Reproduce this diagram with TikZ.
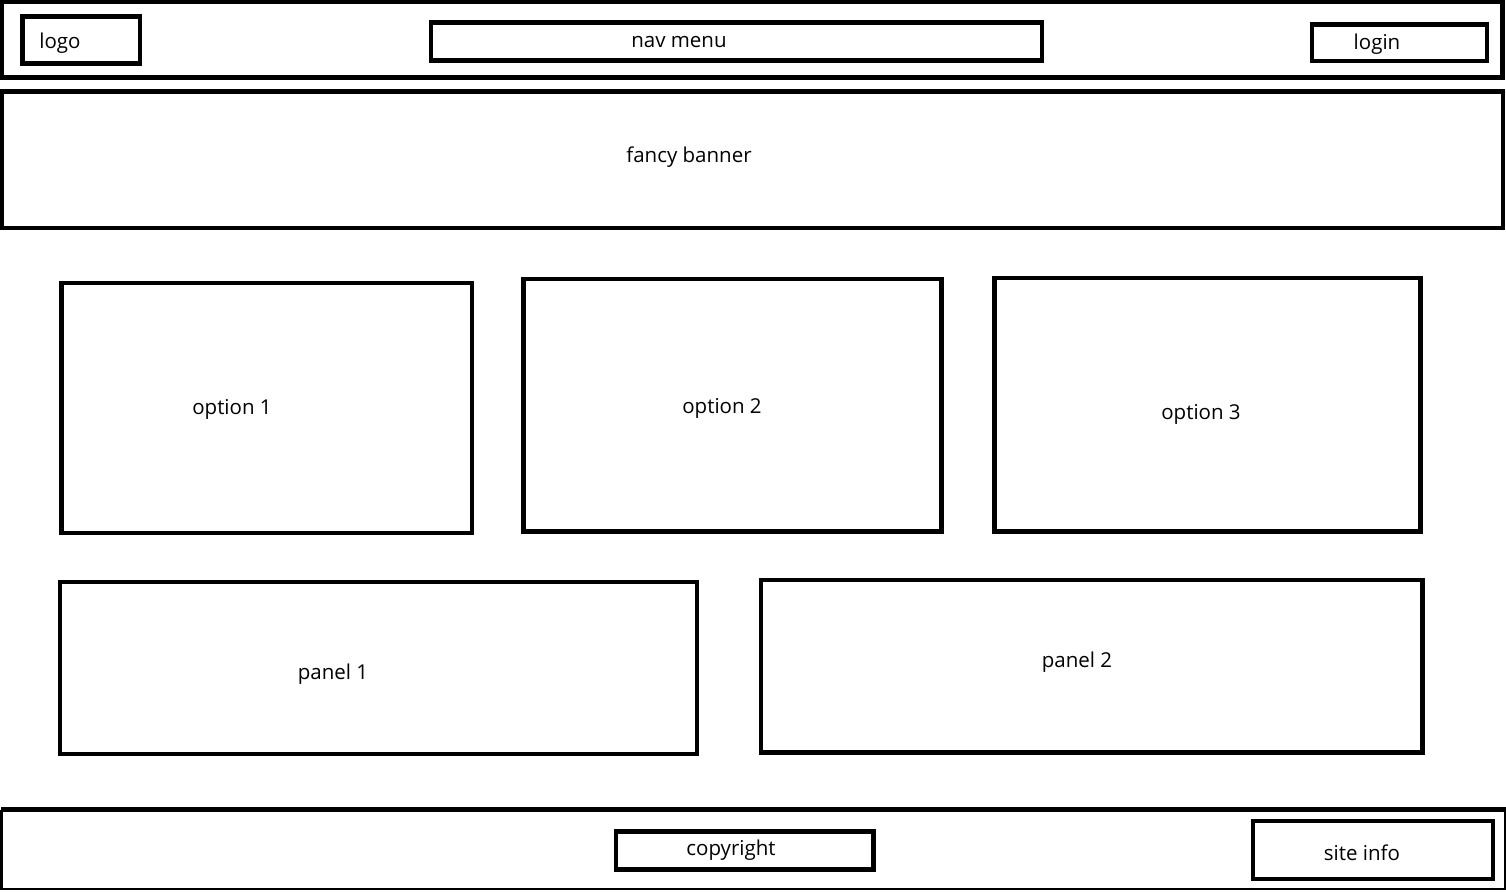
\documentclass[tikz,border=0pt]{standalone}
\usepackage{fontspec}
\setmainfont{Open Sans}
\begin{document}
\begin{tikzpicture}[x=1pt,y=-1pt,
  box/.style={draw=black,line width=4.5pt},
  lbl/.style={inner sep=0pt,font=\fontsize{20.5}{22}\selectfont,anchor=center}]
\useasboundingbox (0,0) rectangle (1506,891);
% header
\draw[box] (2,2) rectangle (1502.5,77.5);
\draw[box] (22.5,16.5) rectangle (140,63.5);
\draw[box] (431,22.5) rectangle (1042,60.5);
\draw[box] (1312,24.5) rectangle (1487,61);
\node[lbl] (logo) at (60,43) {logo};
\node[lbl] (nav) at (679,42) {nav menu};
\node[lbl] (login) at (1377,44) {login};
% banner
\draw[box] (2,91.5) rectangle (1503,228);
\node[lbl] (banner) at (689,157) {fancy banner};
% options
\draw[box] (61.5,283) rectangle (472,533);
\draw[box] (523.5,279) rectangle (941.5,531.5);
\draw[box] (994.5,278) rectangle (1420.5,531.5);
\node[lbl] (o1) at (232,409) {option 1};
\node[lbl] (o2) at (722,408) {option 2};
\node[lbl] (o3) at (1201,414) {option 3};
% panels
\draw[box] (60,582) rectangle (697,754);
\draw[box] (761,580) rectangle (1422.5,752.5);
\node[lbl] (p1) at (333,674) {panel 1};
\node[lbl] (p2) at (1077,662) {panel 2};
% footer
\draw[box] (1,809.5) -- (1506,809.5);
\draw[draw=black,line width=3pt] (1.5,809.5) -- (1.5,889);
\draw[draw=black,line width=2pt] (0,889) -- (1505,889) -- (1505,809.5);
\draw[box] (616,831.5) rectangle (873.5,869.5);
\draw[box] (1253,821) rectangle (1493,879);
\node[lbl] (copy) at (731,850) {copyright};
\node[lbl] (site) at (1362,853) {site info};
\end{tikzpicture}
\end{document}
